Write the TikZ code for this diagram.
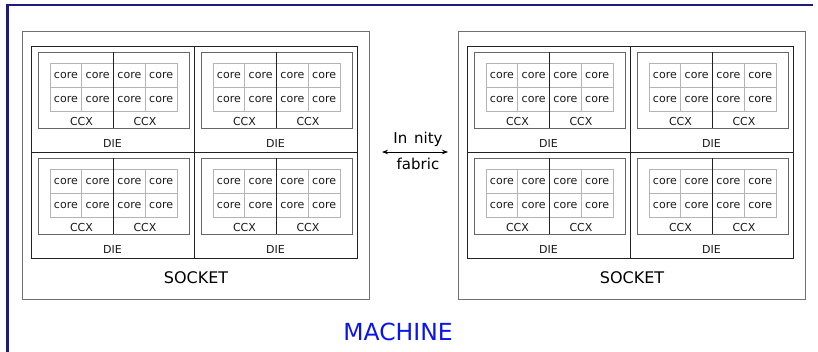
\documentclass[tikz,border=0pt]{standalone}
\usepackage{fontspec}
\setmainfont{DejaVu Sans}
\usetikzlibrary{arrows.meta}
\definecolor{c1}{HTML}{1C1C80}
\definecolor{c2}{HTML}{0A14F0}
\definecolor{sockcolor}{HTML}{707070}
\definecolor{diecolor}{HTML}{222222}
\definecolor{ccxcolor}{HTML}{666666}
\definecolor{corecolor}{HTML}{B4B4B4}

\begin{document}
\begin{tikzpicture}[
    x=1pt, y=-1pt,
    every node/.style={inner sep=0pt},
    lab/.style={font=\fontsize{11}{13}\selectfont, text=black!90},
    big/.style={font=\fontsize{16}{19}\selectfont, text=black},
    fab/.style={font=\fontsize{15}{17}\selectfont, text=black},
    sockline/.style={draw=sockcolor, line width=0.9pt},
    dieline/.style={draw=diecolor, line width=0.9pt},
    ccxline/.style={draw=ccxcolor, line width=1.0pt},
    coreline/.style={draw=corecolor, line width=0.6pt},
]
\useasboundingbox (0,0) rectangle (818,351);

% the machine frame, cut off at the right and bottom
\draw[c1, line width=2.2pt] (813,5) -- (7.5,5) -- (7.5,352);
\node[font=\fontsize{23.5}{26}\selectfont, text=c2] (machine) at (398,332) {MACHINE};

% two sockets, four dies each
\foreach \s/\ox in {l/0, r/436}{
    \draw[sockline] ({\ox+22},31) rectangle ({\ox+369},299);
    \node[big] (sock-\s) at ({\ox+196},278) {SOCKET};
    \foreach \d/\dx/\dy in {a/31/46, b/194/46, c/31/152, d/194/152}{
        \draw[dieline] ({\ox+\dx},\dy) rectangle ++(163,106);
        \draw[ccxline] ({\ox+\dx+7},{\dy+6}) rectangle ++(151,76);
        \foreach \i in {0,...,3}{
            \foreach \j in {0,1}{
                \draw[coreline] ({\ox+\dx+19+\i*31.75},{\dy+17+\j*24}) rectangle ++(31.75,24);
                \node[lab] (core-\s\d\i\j) at ({\ox+\dx+34.9+\i*31.75},{\dy+29+\j*24}) {core};
            }
        }
        \draw[dieline] ({\ox+\dx+82},{\dy+6}) -- ++(0,76);
        \node[lab] (ccx-\s\d1) at ({\ox+\dx+50.5},{\dy+75}) {CCX};
        \node[lab] (ccx-\s\d2) at ({\ox+\dx+114},{\dy+75}) {CCX};
        \node[lab] (die-\s\d) at ({\ox+\dx+81.5},{\dy+97}) {DIE};
    }
}

% the link between the sockets
\node[fab] (fab-top) at (418,139) {In\hspace{0.45em}nity};
\node[fab] (fab-bot) at (418,164) {fabric};
\coordinate (fab-l) at (382,152);
\coordinate (fab-r) at (448,152);
\draw[black, line width=0.8pt, {Stealth[length=6pt]}-{Stealth[length=6pt]}] (fab-l) -- (fab-r);
\end{tikzpicture}
\end{document}
